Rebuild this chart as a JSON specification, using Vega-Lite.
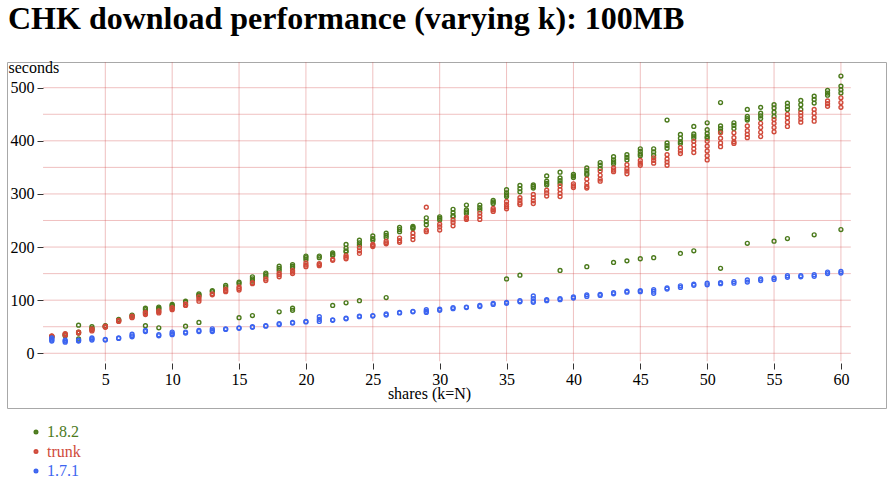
{
"$schema": "https://vega.github.io/schema/vega-lite/v6.json",
"width": 879, "height": 346,
"autosize": "none",
"padding": {"left": 7, "top": 62, "right": 5, "bottom": 77},
"background": "white",
"title": {"text": "CHK download performance (varying k): 100MB", "anchor": "start", "frame": "group", "font": "Liberation Serif", "fontSize": 32, "fontWeight": "bold", "color": "black", "baseline": "alphabetic", "offset": -2, "dx": 1},
"config": {"font": "Liberation Serif", "view": {"stroke": "#a8a8a8", "strokeWidth": 1}},
"datasets": {
"gy": [{"t":0},{"t":50},{"t":100},{"t":150},{"t":200},{"t":250},{"t":300},{"t":350},{"t":400},{"t":450},{"t":500}],
"gx": [{"k":5},{"k":10},{"k":15},{"k":20},{"k":25},{"k":30},{"k":35},{"k":40},{"k":45},{"k":50},{"k":55},{"k":60}],
"pts": [
{"k":1,"s":"1.8.2","t":32},{"k":1,"s":"1.8.2","t":30},
{"k":2,"s":"1.8.2","t":36},{"k":2,"s":"1.8.2","t":33},
{"k":3,"s":"1.8.2","t":40},{"k":3,"s":"1.8.2","t":38},{"k":3,"s":"1.8.2","t":53},{"k":3,"s":"1.8.2","t":27},
{"k":4,"s":"1.8.2","t":47},{"k":4,"s":"1.8.2","t":45},{"k":4,"s":"1.8.2","t":50},
{"k":5,"s":"1.8.2","t":52},{"k":5,"s":"1.8.2","t":51},{"k":5,"s":"1.8.2","t":50},
{"k":6,"s":"1.8.2","t":64},{"k":6,"s":"1.8.2","t":62},
{"k":7,"s":"1.8.2","t":72},{"k":7,"s":"1.8.2","t":70},
{"k":8,"s":"1.8.2","t":85},{"k":8,"s":"1.8.2","t":82},{"k":8,"s":"1.8.2","t":78},{"k":8,"s":"1.8.2","t":52},
{"k":9,"s":"1.8.2","t":87},{"k":9,"s":"1.8.2","t":85},{"k":9,"s":"1.8.2","t":83},{"k":9,"s":"1.8.2","t":48},
{"k":10,"s":"1.8.2","t":92},{"k":10,"s":"1.8.2","t":90},{"k":10,"s":"1.8.2","t":88},
{"k":11,"s":"1.8.2","t":98},{"k":11,"s":"1.8.2","t":96},{"k":11,"s":"1.8.2","t":51},
{"k":12,"s":"1.8.2","t":112},{"k":12,"s":"1.8.2","t":110},{"k":12,"s":"1.8.2","t":108},{"k":12,"s":"1.8.2","t":58},
{"k":13,"s":"1.8.2","t":118},{"k":13,"s":"1.8.2","t":116},
{"k":14,"s":"1.8.2","t":128},{"k":14,"s":"1.8.2","t":125},
{"k":15,"s":"1.8.2","t":134},{"k":15,"s":"1.8.2","t":131},{"k":15,"s":"1.8.2","t":67},
{"k":16,"s":"1.8.2","t":144},{"k":16,"s":"1.8.2","t":140},{"k":16,"s":"1.8.2","t":136},{"k":16,"s":"1.8.2","t":71},
{"k":17,"s":"1.8.2","t":151},{"k":17,"s":"1.8.2","t":148},{"k":17,"s":"1.8.2","t":144},
{"k":18,"s":"1.8.2","t":164},{"k":18,"s":"1.8.2","t":160},{"k":18,"s":"1.8.2","t":156},{"k":18,"s":"1.8.2","t":78},
{"k":19,"s":"1.8.2","t":167},{"k":19,"s":"1.8.2","t":164},{"k":19,"s":"1.8.2","t":161},{"k":19,"s":"1.8.2","t":85},{"k":19,"s":"1.8.2","t":81},
{"k":20,"s":"1.8.2","t":183},{"k":20,"s":"1.8.2","t":180},{"k":20,"s":"1.8.2","t":176},
{"k":21,"s":"1.8.2","t":183},{"k":21,"s":"1.8.2","t":180},
{"k":22,"s":"1.8.2","t":189},{"k":22,"s":"1.8.2","t":186},{"k":22,"s":"1.8.2","t":184},{"k":22,"s":"1.8.2","t":90},
{"k":23,"s":"1.8.2","t":205},{"k":23,"s":"1.8.2","t":198},{"k":23,"s":"1.8.2","t":193},{"k":23,"s":"1.8.2","t":191},{"k":23,"s":"1.8.2","t":95},
{"k":24,"s":"1.8.2","t":213},{"k":24,"s":"1.8.2","t":208},{"k":24,"s":"1.8.2","t":204},{"k":24,"s":"1.8.2","t":99},
{"k":25,"s":"1.8.2","t":221},{"k":25,"s":"1.8.2","t":216},{"k":25,"s":"1.8.2","t":213},
{"k":26,"s":"1.8.2","t":226},{"k":26,"s":"1.8.2","t":222},{"k":26,"s":"1.8.2","t":218},{"k":26,"s":"1.8.2","t":105},
{"k":27,"s":"1.8.2","t":237},{"k":27,"s":"1.8.2","t":233},{"k":27,"s":"1.8.2","t":229},
{"k":28,"s":"1.8.2","t":239},{"k":28,"s":"1.8.2","t":237},{"k":28,"s":"1.8.2","t":235},
{"k":29,"s":"1.8.2","t":255},{"k":29,"s":"1.8.2","t":248},{"k":29,"s":"1.8.2","t":242},
{"k":30,"s":"1.8.2","t":257},{"k":30,"s":"1.8.2","t":254},{"k":30,"s":"1.8.2","t":251},
{"k":31,"s":"1.8.2","t":271},{"k":31,"s":"1.8.2","t":265},{"k":31,"s":"1.8.2","t":259},{"k":31,"s":"1.8.2","t":257},
{"k":32,"s":"1.8.2","t":279},{"k":32,"s":"1.8.2","t":270},{"k":32,"s":"1.8.2","t":266},{"k":32,"s":"1.8.2","t":263},
{"k":33,"s":"1.8.2","t":279},{"k":33,"s":"1.8.2","t":274},{"k":33,"s":"1.8.2","t":270},
{"k":34,"s":"1.8.2","t":288},{"k":34,"s":"1.8.2","t":285},{"k":34,"s":"1.8.2","t":282},
{"k":35,"s":"1.8.2","t":308},{"k":35,"s":"1.8.2","t":302},{"k":35,"s":"1.8.2","t":298},{"k":35,"s":"1.8.2","t":295},{"k":35,"s":"1.8.2","t":140},
{"k":36,"s":"1.8.2","t":316},{"k":36,"s":"1.8.2","t":310},{"k":36,"s":"1.8.2","t":304},{"k":36,"s":"1.8.2","t":147},
{"k":37,"s":"1.8.2","t":317},{"k":37,"s":"1.8.2","t":314},{"k":37,"s":"1.8.2","t":311},
{"k":38,"s":"1.8.2","t":334},{"k":38,"s":"1.8.2","t":324},{"k":38,"s":"1.8.2","t":320},{"k":38,"s":"1.8.2","t":317},
{"k":39,"s":"1.8.2","t":341},{"k":39,"s":"1.8.2","t":330},{"k":39,"s":"1.8.2","t":325},{"k":39,"s":"1.8.2","t":320},{"k":39,"s":"1.8.2","t":156},
{"k":40,"s":"1.8.2","t":337},{"k":40,"s":"1.8.2","t":334},{"k":40,"s":"1.8.2","t":331},
{"k":41,"s":"1.8.2","t":349},{"k":41,"s":"1.8.2","t":344},{"k":41,"s":"1.8.2","t":339},{"k":41,"s":"1.8.2","t":336},{"k":41,"s":"1.8.2","t":163},
{"k":42,"s":"1.8.2","t":359},{"k":42,"s":"1.8.2","t":354},{"k":42,"s":"1.8.2","t":348},
{"k":43,"s":"1.8.2","t":370},{"k":43,"s":"1.8.2","t":364},{"k":43,"s":"1.8.2","t":360},{"k":43,"s":"1.8.2","t":357},{"k":43,"s":"1.8.2","t":171},
{"k":44,"s":"1.8.2","t":374},{"k":44,"s":"1.8.2","t":369},{"k":44,"s":"1.8.2","t":364},{"k":44,"s":"1.8.2","t":174},
{"k":45,"s":"1.8.2","t":385},{"k":45,"s":"1.8.2","t":380},{"k":45,"s":"1.8.2","t":375},{"k":45,"s":"1.8.2","t":372},{"k":45,"s":"1.8.2","t":178},
{"k":46,"s":"1.8.2","t":385},{"k":46,"s":"1.8.2","t":379},{"k":46,"s":"1.8.2","t":373},{"k":46,"s":"1.8.2","t":180},
{"k":47,"s":"1.8.2","t":439},{"k":47,"s":"1.8.2","t":396},{"k":47,"s":"1.8.2","t":391},{"k":47,"s":"1.8.2","t":386},
{"k":48,"s":"1.8.2","t":412},{"k":48,"s":"1.8.2","t":405},{"k":48,"s":"1.8.2","t":398},{"k":48,"s":"1.8.2","t":395},{"k":48,"s":"1.8.2","t":188},
{"k":49,"s":"1.8.2","t":427},{"k":49,"s":"1.8.2","t":413},{"k":49,"s":"1.8.2","t":409},{"k":49,"s":"1.8.2","t":405},{"k":49,"s":"1.8.2","t":193},
{"k":50,"s":"1.8.2","t":434},{"k":50,"s":"1.8.2","t":421},{"k":50,"s":"1.8.2","t":414},{"k":50,"s":"1.8.2","t":408},{"k":50,"s":"1.8.2","t":405},
{"k":51,"s":"1.8.2","t":472},{"k":51,"s":"1.8.2","t":428},{"k":51,"s":"1.8.2","t":423},{"k":51,"s":"1.8.2","t":418},{"k":51,"s":"1.8.2","t":160},
{"k":52,"s":"1.8.2","t":434},{"k":52,"s":"1.8.2","t":429},{"k":52,"s":"1.8.2","t":423},
{"k":53,"s":"1.8.2","t":459},{"k":53,"s":"1.8.2","t":446},{"k":53,"s":"1.8.2","t":442},{"k":53,"s":"1.8.2","t":439},{"k":53,"s":"1.8.2","t":207},
{"k":54,"s":"1.8.2","t":463},{"k":54,"s":"1.8.2","t":452},{"k":54,"s":"1.8.2","t":447},{"k":54,"s":"1.8.2","t":442},
{"k":55,"s":"1.8.2","t":468},{"k":55,"s":"1.8.2","t":462},{"k":55,"s":"1.8.2","t":454},{"k":55,"s":"1.8.2","t":446},{"k":55,"s":"1.8.2","t":211},
{"k":56,"s":"1.8.2","t":471},{"k":56,"s":"1.8.2","t":465},{"k":56,"s":"1.8.2","t":459},{"k":56,"s":"1.8.2","t":216},
{"k":57,"s":"1.8.2","t":476},{"k":57,"s":"1.8.2","t":468},{"k":57,"s":"1.8.2","t":459},
{"k":58,"s":"1.8.2","t":484},{"k":58,"s":"1.8.2","t":478},{"k":58,"s":"1.8.2","t":471},{"k":58,"s":"1.8.2","t":223},
{"k":59,"s":"1.8.2","t":495},{"k":59,"s":"1.8.2","t":490},{"k":59,"s":"1.8.2","t":486},
{"k":60,"s":"1.8.2","t":522},{"k":60,"s":"1.8.2","t":503},{"k":60,"s":"1.8.2","t":496},{"k":60,"s":"1.8.2","t":490},{"k":60,"s":"1.8.2","t":233},
{"k":1,"s":"trunk","t":33},{"k":1,"s":"trunk","t":32},{"k":1,"s":"trunk","t":31},
{"k":2,"s":"trunk","t":37},{"k":2,"s":"trunk","t":35},{"k":2,"s":"trunk","t":34},
{"k":3,"s":"trunk","t":40},{"k":3,"s":"trunk","t":39},{"k":3,"s":"trunk","t":38},
{"k":4,"s":"trunk","t":46},{"k":4,"s":"trunk","t":44},{"k":4,"s":"trunk","t":42},
{"k":5,"s":"trunk","t":51},{"k":5,"s":"trunk","t":50},{"k":5,"s":"trunk","t":49},
{"k":6,"s":"trunk","t":62},{"k":6,"s":"trunk","t":61},{"k":6,"s":"trunk","t":60},
{"k":7,"s":"trunk","t":70},{"k":7,"s":"trunk","t":68},{"k":7,"s":"trunk","t":67},
{"k":8,"s":"trunk","t":77},{"k":8,"s":"trunk","t":75},{"k":8,"s":"trunk","t":73},
{"k":9,"s":"trunk","t":80},{"k":9,"s":"trunk","t":78},{"k":9,"s":"trunk","t":76},
{"k":10,"s":"trunk","t":86},{"k":10,"s":"trunk","t":84},{"k":10,"s":"trunk","t":82},
{"k":11,"s":"trunk","t":93},{"k":11,"s":"trunk","t":91},{"k":11,"s":"trunk","t":90},
{"k":12,"s":"trunk","t":106},{"k":12,"s":"trunk","t":102},{"k":12,"s":"trunk","t":98},
{"k":13,"s":"trunk","t":112},{"k":13,"s":"trunk","t":110},
{"k":14,"s":"trunk","t":121},{"k":14,"s":"trunk","t":118},{"k":14,"s":"trunk","t":116},
{"k":15,"s":"trunk","t":125},{"k":15,"s":"trunk","t":122},{"k":15,"s":"trunk","t":119},
{"k":16,"s":"trunk","t":133},{"k":16,"s":"trunk","t":131},
{"k":17,"s":"trunk","t":140},{"k":17,"s":"trunk","t":137},
{"k":18,"s":"trunk","t":151},{"k":18,"s":"trunk","t":148},{"k":18,"s":"trunk","t":144},
{"k":19,"s":"trunk","t":156},{"k":19,"s":"trunk","t":153},{"k":19,"s":"trunk","t":150},
{"k":20,"s":"trunk","t":170},{"k":20,"s":"trunk","t":166},{"k":20,"s":"trunk","t":163},
{"k":21,"s":"trunk","t":169},{"k":21,"s":"trunk","t":167},{"k":21,"s":"trunk","t":165},
{"k":22,"s":"trunk","t":177},{"k":22,"s":"trunk","t":175},
{"k":23,"s":"trunk","t":184},{"k":23,"s":"trunk","t":181},{"k":23,"s":"trunk","t":178},
{"k":24,"s":"trunk","t":199},{"k":24,"s":"trunk","t":193},{"k":24,"s":"trunk","t":188},
{"k":25,"s":"trunk","t":205},{"k":25,"s":"trunk","t":203},{"k":25,"s":"trunk","t":201},
{"k":26,"s":"trunk","t":211},{"k":26,"s":"trunk","t":208},{"k":26,"s":"trunk","t":206},
{"k":27,"s":"trunk","t":217},{"k":27,"s":"trunk","t":212},{"k":27,"s":"trunk","t":209},
{"k":28,"s":"trunk","t":226},{"k":28,"s":"trunk","t":220},{"k":28,"s":"trunk","t":214},
{"k":29,"s":"trunk","t":275},{"k":29,"s":"trunk","t":232},{"k":29,"s":"trunk","t":229},
{"k":30,"s":"trunk","t":243},{"k":30,"s":"trunk","t":238},{"k":30,"s":"trunk","t":232},
{"k":31,"s":"trunk","t":251},{"k":31,"s":"trunk","t":246},{"k":31,"s":"trunk","t":240},
{"k":32,"s":"trunk","t":256},{"k":32,"s":"trunk","t":254},{"k":32,"s":"trunk","t":252},
{"k":33,"s":"trunk","t":264},{"k":33,"s":"trunk","t":258},{"k":33,"s":"trunk","t":252},
{"k":34,"s":"trunk","t":273},{"k":34,"s":"trunk","t":270},{"k":34,"s":"trunk","t":267},
{"k":35,"s":"trunk","t":286},{"k":35,"s":"trunk","t":280},{"k":35,"s":"trunk","t":276},{"k":35,"s":"trunk","t":272},
{"k":36,"s":"trunk","t":293},{"k":36,"s":"trunk","t":288},{"k":36,"s":"trunk","t":283},{"k":36,"s":"trunk","t":280},
{"k":37,"s":"trunk","t":299},{"k":37,"s":"trunk","t":293},{"k":37,"s":"trunk","t":287},{"k":37,"s":"trunk","t":282},
{"k":38,"s":"trunk","t":307},{"k":38,"s":"trunk","t":302},{"k":38,"s":"trunk","t":296},
{"k":39,"s":"trunk","t":315},{"k":39,"s":"trunk","t":308},{"k":39,"s":"trunk","t":301},{"k":39,"s":"trunk","t":295},
{"k":40,"s":"trunk","t":319},{"k":40,"s":"trunk","t":315},{"k":40,"s":"trunk","t":312},
{"k":41,"s":"trunk","t":328},{"k":41,"s":"trunk","t":320},{"k":41,"s":"trunk","t":314},{"k":41,"s":"trunk","t":311},
{"k":42,"s":"trunk","t":343},{"k":42,"s":"trunk","t":335},{"k":42,"s":"trunk","t":328},{"k":42,"s":"trunk","t":324},
{"k":43,"s":"trunk","t":349},{"k":43,"s":"trunk","t":345},{"k":43,"s":"trunk","t":342},
{"k":44,"s":"trunk","t":355},{"k":44,"s":"trunk","t":348},{"k":44,"s":"trunk","t":343},{"k":44,"s":"trunk","t":338},
{"k":45,"s":"trunk","t":363},{"k":45,"s":"trunk","t":358},{"k":45,"s":"trunk","t":354},
{"k":46,"s":"trunk","t":368},{"k":46,"s":"trunk","t":363},{"k":46,"s":"trunk","t":358},
{"k":47,"s":"trunk","t":374},{"k":47,"s":"trunk","t":366},{"k":47,"s":"trunk","t":360},{"k":47,"s":"trunk","t":354},
{"k":48,"s":"trunk","t":387},{"k":48,"s":"trunk","t":381},{"k":48,"s":"trunk","t":376},
{"k":49,"s":"trunk","t":399},{"k":49,"s":"trunk","t":392},{"k":49,"s":"trunk","t":385},{"k":49,"s":"trunk","t":378},
{"k":50,"s":"trunk","t":399},{"k":50,"s":"trunk","t":390},{"k":50,"s":"trunk","t":381},{"k":50,"s":"trunk","t":372},{"k":50,"s":"trunk","t":364},
{"k":51,"s":"trunk","t":415},{"k":51,"s":"trunk","t":405},{"k":51,"s":"trunk","t":396},{"k":51,"s":"trunk","t":389},
{"k":52,"s":"trunk","t":415},{"k":52,"s":"trunk","t":406},{"k":52,"s":"trunk","t":398},{"k":52,"s":"trunk","t":395},
{"k":53,"s":"trunk","t":428},{"k":53,"s":"trunk","t":419},{"k":53,"s":"trunk","t":412},{"k":53,"s":"trunk","t":406},
{"k":54,"s":"trunk","t":433},{"k":54,"s":"trunk","t":425},{"k":54,"s":"trunk","t":416},{"k":54,"s":"trunk","t":408},
{"k":55,"s":"trunk","t":440},{"k":55,"s":"trunk","t":433},{"k":55,"s":"trunk","t":425},{"k":55,"s":"trunk","t":417},
{"k":56,"s":"trunk","t":450},{"k":56,"s":"trunk","t":443},{"k":56,"s":"trunk","t":435},{"k":56,"s":"trunk","t":427},
{"k":57,"s":"trunk","t":453},{"k":57,"s":"trunk","t":447},{"k":57,"s":"trunk","t":441},{"k":57,"s":"trunk","t":435},
{"k":58,"s":"trunk","t":459},{"k":58,"s":"trunk","t":452},{"k":58,"s":"trunk","t":444},{"k":58,"s":"trunk","t":437},
{"k":59,"s":"trunk","t":475},{"k":59,"s":"trunk","t":470},{"k":59,"s":"trunk","t":465},
{"k":60,"s":"trunk","t":481},{"k":60,"s":"trunk","t":472},{"k":60,"s":"trunk","t":463},
{"k":1,"s":"1.7.1","t":29},{"k":1,"s":"1.7.1","t":27},{"k":1,"s":"1.7.1","t":25},{"k":1,"s":"1.7.1","t":23},
{"k":2,"s":"1.7.1","t":25},{"k":2,"s":"1.7.1","t":23},{"k":2,"s":"1.7.1","t":21},
{"k":3,"s":"1.7.1","t":25},{"k":3,"s":"1.7.1","t":24},{"k":3,"s":"1.7.1","t":23},
{"k":4,"s":"1.7.1","t":29},{"k":4,"s":"1.7.1","t":27},{"k":4,"s":"1.7.1","t":25},
{"k":5,"s":"1.7.1","t":26},{"k":5,"s":"1.7.1","t":25},
{"k":6,"s":"1.7.1","t":29},{"k":6,"s":"1.7.1","t":28},
{"k":7,"s":"1.7.1","t":36},{"k":7,"s":"1.7.1","t":33},{"k":7,"s":"1.7.1","t":31},
{"k":8,"s":"1.7.1","t":43},{"k":8,"s":"1.7.1","t":41},
{"k":9,"s":"1.7.1","t":35},{"k":9,"s":"1.7.1","t":33},
{"k":10,"s":"1.7.1","t":40},{"k":10,"s":"1.7.1","t":37},{"k":10,"s":"1.7.1","t":35},
{"k":11,"s":"1.7.1","t":40},{"k":11,"s":"1.7.1","t":38},
{"k":12,"s":"1.7.1","t":43},{"k":12,"s":"1.7.1","t":41},
{"k":13,"s":"1.7.1","t":46},{"k":13,"s":"1.7.1","t":43},{"k":13,"s":"1.7.1","t":41},
{"k":14,"s":"1.7.1","t":46},{"k":14,"s":"1.7.1","t":45},
{"k":15,"s":"1.7.1","t":48},{"k":15,"s":"1.7.1","t":47},
{"k":16,"s":"1.7.1","t":50},{"k":16,"s":"1.7.1","t":49},
{"k":17,"s":"1.7.1","t":52},{"k":17,"s":"1.7.1","t":51},
{"k":18,"s":"1.7.1","t":56},{"k":18,"s":"1.7.1","t":54},
{"k":19,"s":"1.7.1","t":58},{"k":19,"s":"1.7.1","t":57},
{"k":20,"s":"1.7.1","t":60},{"k":20,"s":"1.7.1","t":59},
{"k":21,"s":"1.7.1","t":69},{"k":21,"s":"1.7.1","t":64},{"k":21,"s":"1.7.1","t":60},
{"k":22,"s":"1.7.1","t":63},{"k":22,"s":"1.7.1","t":62},
{"k":23,"s":"1.7.1","t":66},{"k":23,"s":"1.7.1","t":65},
{"k":24,"s":"1.7.1","t":70},{"k":24,"s":"1.7.1","t":69},
{"k":25,"s":"1.7.1","t":71},{"k":25,"s":"1.7.1","t":70},
{"k":26,"s":"1.7.1","t":74},{"k":26,"s":"1.7.1","t":72},
{"k":27,"s":"1.7.1","t":77},{"k":27,"s":"1.7.1","t":76},
{"k":28,"s":"1.7.1","t":79},{"k":28,"s":"1.7.1","t":78},
{"k":29,"s":"1.7.1","t":82},{"k":29,"s":"1.7.1","t":79},{"k":29,"s":"1.7.1","t":77},
{"k":30,"s":"1.7.1","t":83},{"k":30,"s":"1.7.1","t":81},
{"k":31,"s":"1.7.1","t":86},{"k":31,"s":"1.7.1","t":84},
{"k":32,"s":"1.7.1","t":87},{"k":32,"s":"1.7.1","t":86},
{"k":33,"s":"1.7.1","t":90},{"k":33,"s":"1.7.1","t":88},
{"k":34,"s":"1.7.1","t":94},{"k":34,"s":"1.7.1","t":92},
{"k":35,"s":"1.7.1","t":96},{"k":35,"s":"1.7.1","t":94},
{"k":36,"s":"1.7.1","t":99},{"k":36,"s":"1.7.1","t":97},
{"k":37,"s":"1.7.1","t":108},{"k":37,"s":"1.7.1","t":103},{"k":37,"s":"1.7.1","t":98},{"k":37,"s":"1.7.1","t":96},
{"k":38,"s":"1.7.1","t":101},{"k":38,"s":"1.7.1","t":99},
{"k":39,"s":"1.7.1","t":103},{"k":39,"s":"1.7.1","t":101},
{"k":40,"s":"1.7.1","t":106},{"k":40,"s":"1.7.1","t":104},
{"k":41,"s":"1.7.1","t":110},{"k":41,"s":"1.7.1","t":107},
{"k":42,"s":"1.7.1","t":111},{"k":42,"s":"1.7.1","t":109},
{"k":43,"s":"1.7.1","t":114},{"k":43,"s":"1.7.1","t":112},
{"k":44,"s":"1.7.1","t":117},{"k":44,"s":"1.7.1","t":115},
{"k":45,"s":"1.7.1","t":118},{"k":45,"s":"1.7.1","t":116},
{"k":46,"s":"1.7.1","t":120},{"k":46,"s":"1.7.1","t":117},{"k":46,"s":"1.7.1","t":113},
{"k":47,"s":"1.7.1","t":123},{"k":47,"s":"1.7.1","t":121},
{"k":48,"s":"1.7.1","t":127},{"k":48,"s":"1.7.1","t":124},
{"k":49,"s":"1.7.1","t":130},{"k":49,"s":"1.7.1","t":128},
{"k":50,"s":"1.7.1","t":132},{"k":50,"s":"1.7.1","t":129},
{"k":51,"s":"1.7.1","t":133},{"k":51,"s":"1.7.1","t":131},
{"k":52,"s":"1.7.1","t":135},{"k":52,"s":"1.7.1","t":132},
{"k":53,"s":"1.7.1","t":138},{"k":53,"s":"1.7.1","t":134},
{"k":54,"s":"1.7.1","t":140},{"k":54,"s":"1.7.1","t":137},
{"k":55,"s":"1.7.1","t":142},{"k":55,"s":"1.7.1","t":139},
{"k":56,"s":"1.7.1","t":146},{"k":56,"s":"1.7.1","t":143},
{"k":57,"s":"1.7.1","t":146},{"k":57,"s":"1.7.1","t":144},
{"k":58,"s":"1.7.1","t":148},{"k":58,"s":"1.7.1","t":145},
{"k":59,"s":"1.7.1","t":153},{"k":59,"s":"1.7.1","t":150},
{"k":60,"s":"1.7.1","t":154},{"k":60,"s":"1.7.1","t":151}
]},
"layer": [
{"data": {"name": "gy"},
 "mark": {"type": "rule", "color": "#d24a4a", "opacity": 0.35, "strokeWidth": 1},
 "encoding": {
  "y": {"field": "t", "type": "quantitative", "scale": {"domain": [-103, 548.4], "nice": false, "zero": false}},
  "x": {"datum": 0.344, "type": "quantitative", "scale": {"domain": [-2.35, 63.37], "nice": false, "zero": false}},
  "x2": {"datum": 60.74}
 }},
{"data": {"name": "gx"},
 "mark": {"type": "rule", "color": "#d24a4a", "opacity": 0.35, "strokeWidth": 1},
 "encoding": {
  "x": {"field": "k", "type": "quantitative", "scale": {"domain": [-2.35, 63.37], "nice": false, "zero": false}},
  "y": {"datum": -15, "type": "quantitative", "scale": {"domain": [-103, 548.4], "nice": false, "zero": false}},
  "y2": {"datum": 548.4}
 }},
{"data": {"name": "pts"},
 "mark": {"type": "point", "shape": "circle", "filled": false, "size": 15, "strokeWidth": 1.4, "opacity": 1},
 "encoding": {
  "x": {"field": "k", "type": "quantitative", "scale": {"domain": [-2.35, 63.37], "nice": false, "zero": false},
   "axis": {"title": "shares (k=N)", "values": [5,10,15,20,25,30,35,40,45,50,55,60], "grid": false, "domain": false, "offset": -45, "tickSize": 6, "tickColor": "#333", "labelFont": "Liberation Serif", "labelFontSize": 16, "labelColor": "black", "labelPadding": 2, "titleFont": "Liberation Serif", "titleFontSize": 16, "titleFontWeight": "normal", "titleColor": "black", "titleX": 422, "titleY": 35, "titleAlign": "center", "titleBaseline": "alphabetic"}},
  "y": {"field": "t", "type": "quantitative", "scale": {"domain": [-103, 548.4], "nice": false, "zero": false},
   "axis": {"title": "seconds", "values": [0,50,100,150,200,250,300,350,400,450,500], "grid": false, "domain": false, "offset": -36, "tickSize": 6, "tickColor": "#333", "labelFont": "Liberation Serif", "labelFontSize": 16, "labelColor": "black", "labelPadding": 3, "titleFont": "Liberation Serif", "titleFontSize": 16, "titleFontWeight": "normal", "titleColor": "black", "titleAngle": 0, "titleAlign": "left", "titleBaseline": "alphabetic", "titleX": -35, "titleY": 10}},
  "color": {"field": "s", "type": "nominal", "scale": {"domain": ["1.8.2", "trunk", "1.7.1"], "range": ["#4b7a1c", "#d04a3a", "#3c64f0"]},
   "legend": {"orient": "none", "legendX": 21, "legendY": 362, "title": null, "symbolType": "circle", "symbolSize": 8, "symbolStrokeWidth": 2.2, "labelFont": "Liberation Serif", "labelFontSize": 16, "rowPadding": 3.5, "labelOffset": 3, "padding": 0,
    "labelColor": {"expr": "datum.value === '1.8.2' ? '#4b7a1c' : (datum.value === 'trunk' ? '#d04a3a' : '#3c64f0')"}}}
 }}
]
}
